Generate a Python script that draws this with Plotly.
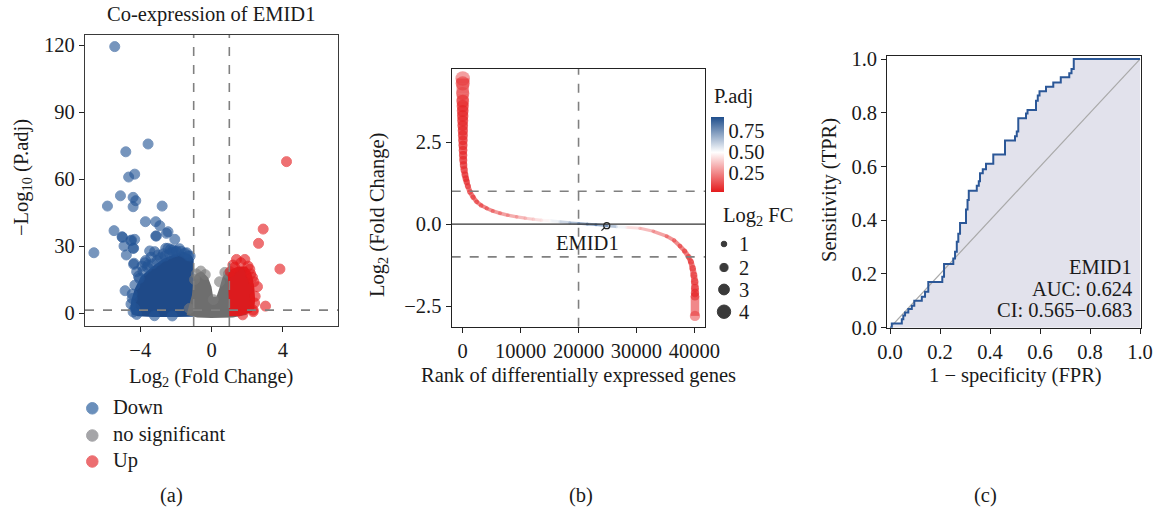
import plotly.graph_objects as go
from plotly.colors import sample_colorscale

W, H = 1162, 515
FONT = "Liberation Serif"
FS = 20.5
TXT = "#1a1a1a"


def px_x(px):
    return px / W


def px_y(py):
    return 1 - py / H


# ---------------- (a) volcano plot ----------------
down_fc = [-5.43, -3.56, -4.81, -4.31, -4.65, -5.11, -4.40, -4.25, -4.40, -5.84, -2.77,
           -3.71, -3.13, -2.90, -5.47, -2.44, -2.06, -5.00, -4.53, -4.31, -3.13, -6.60,
           -4.91, -4.37, -4.78, -3.47, -3.19, -4.37, -4.85, -3.56, -2.57, -2.16, -4.35,
           -3.75, -2.53, -3.09, -3.00, -2.44, -5.02, -4.49, -4.40, -4.31, -3.40, -2.30,
           -1.80, -1.40, -4.20, -3.90, -3.70, -4.05, -4.45, -1.20, -2.00, -2.70,
           -4.30, -4.10, -3.85, -3.60, -3.30, -3.05, -2.85, -2.60, -2.35, -2.15, -1.95,
           -1.70, -1.50, -1.30, -4.45, -4.52, -4.40, -4.20, -3.20, -2.20]
down_lp = [119.3, 75.7, 72.2, 62.2, 60.9, 52.5, 51.8, 50.3, 47.6, 47.9, 47.9,
           40.9, 40.9, 39.1, 36.9, 36.4, 33.0, 33.9, 32.4, 33.0, 34.5, 27.0,
           30.0, 29.0, 26.0, 27.8, 27.5, 21.8, 10.0, 21.5, 29.0, 28.2, 22.3,
           22.5, 35.7, 34.5, 26.0, 29.0, 34.2, 32.7, 29.0, 2.1, 25.0, 28.5,
           28.8, 27.0, 18.5, 21.0, 23.5, 15.5, 6.5, 25.5, 27.5, 26.5,
           12.5, 16.5, 18.8, 20.5, 22.0, 23.5, 24.8, 25.5, 26.5, 27.2, 27.8,
           27.6, 26.8, 25.6, 8.5, 4.0, 0.5, -0.6, -1.2, -1.3]

up_fc = [4.21, 2.90, 2.64, 3.84, 3.03, 1.40, 1.87, 2.15, 2.58, 2.34, 2.34, 1.20, 2.30,
         2.45, 1.65, 1.05, 1.30, 2.05, 2.38, 2.42, 2.20, 1.75]
up_lp = [67.8, 37.6, 31.2, 19.7, 3.1, 24.0, 24.0, 19.6, 11.8, 1.3, 0.6, 21.5, 16.0,
         7.5, 22.5, 18.5, 20.5, 21.0, 14.0, 4.5, 17.5, -0.8]

ns_fc = [-0.85, -0.60, -0.35, 0.45, 0.75, 1.55, -0.95, 0.95, -1.25, 0.10]
ns_lp = [17.5, 18.8, 17.2, 14.0, 18.2, 1.0, 15.0, 17.5, 2.0, 6.0]

# envelopes of the dense point clouds
down_core_fc = [-1.00, -1.00, -1.15, -1.60, -2.06, -2.72, -3.37, -3.97, -4.31, -4.50, -4.55,
                -4.45, -4.15, -3.30, -2.00, -1.10]
down_core_lp = [-1.6, 24.0, 26.0, 27.6, 26.5, 24.3, 20.5, 16.3, 10.8, 5.8, 2.0,
                -0.6, -1.4, -1.8, -1.8, -1.7]
ns_core_fc = [-1.40, -1.10, -1.00, -0.80, -0.60, -0.45, -0.19, 0.00, 0.09, 0.28, 0.47,
              0.62, 0.84, 1.03, 1.40, 1.75, 2.00, 1.20, 0.00, -0.80]
ns_core_lp = [-0.9, 8.0, 16.0, 17.8, 18.6, 18.2, 15.8, 11.8, 7.3, 7.3, 11.8,
              16.0, 18.3, 19.0, 8.0, 1.5, -0.8, -2.0, -2.2, -2.0]
up_core_fc = [1.00, 0.92, 1.05, 1.22, 1.49, 1.97, 2.20, 2.30, 2.40, 2.45, 2.40, 2.25,
              1.59, 1.03]
up_core_lp = [-1.4, 17.0, 19.2, 20.0, 20.8, 20.8, 18.5, 16.0, 11.8, 5.8, 2.0, 0.4,
              -1.3, -1.4]

# ---------------- (b) rank plot ----------------
rank = [0, 0, 0, 0, 0, 0, 0, 0, 0, 20, 30, 40, 50, 60, 80, 100, 150, 250, 400, 550,
        690, 900, 1260, 1800, 2420, 3200, 4150, 5200, 6440, 7800, 9330, 10800, 12200,
        13600, 15080, 16800, 18500, 20000, 21500, 23000, 24870, 26500, 28300, 30600,
        32900, 35200, 36500, 37500, 38300, 39000, 39400, 39700, 39900, 40050, 40100,
        40100, 40100, 40100]
log2fc = [4.44, 4.29, 3.98, 3.75, 3.60, 3.45, 3.30, 3.15, 3.00, 2.85, 2.70, 2.55, 2.40,
          2.25, 2.10, 1.95, 1.80, 1.65, 1.50, 1.38, 1.29, 1.15, 0.98, 0.82, 0.68, 0.57,
          0.48, 0.40, 0.33, 0.27, 0.22, 0.18, 0.15, 0.12, 0.10, 0.07, 0.04, 0.02, 0.00,
          -0.02, -0.05, -0.08, -0.10, -0.13, -0.22, -0.37, -0.50, -0.67, -0.82, -1.00,
          -1.15, -1.35, -1.55, -1.75, -1.95, -2.10, -2.20, -2.80]
padj = [0.10, 0.06, 0.10, 0.04, 0.04, 0.03, 0.03, 0.03, 0.03, 0.03, 0.03, 0.03, 0.03,
        0.03, 0.03, 0.03, 0.03, 0.03, 0.03, 0.03, 0.03, 0.03, 0.03, 0.03, 0.04, 0.05,
        0.07, 0.10, 0.13, 0.17, 0.22, 0.28, 0.35, 0.42, 0.50, 0.60, 0.72, 0.82, 0.88,
        0.88, 0.85, 0.62, 0.45, 0.30, 0.20, 0.12, 0.08, 0.05, 0.04, 0.03, 0.03, 0.03,
        0.03, 0.03, 0.03, 0.03, 0.03, 0.08]
emid1_rank, emid1_fc = 24870, -0.05
size_legend = [1, 2, 3, 4]

# ---------------- (c) ROC curve ----------------
fpr = [0, 0.007, 0.007, 0.047, 0.047, 0.053, 0.053, 0.06, 0.06, 0.073, 0.073, 0.087,
       0.087, 0.097, 0.097, 0.127, 0.127, 0.14, 0.14, 0.153, 0.153, 0.209, 0.209, 0.216,
       0.216, 0.253, 0.253, 0.26, 0.26, 0.267, 0.267, 0.273, 0.273, 0.28, 0.28, 0.304,
       0.304, 0.31, 0.31, 0.315, 0.315, 0.347, 0.347, 0.355, 0.355, 0.36, 0.36, 0.371,
       0.371, 0.384, 0.384, 0.413, 0.413, 0.46, 0.46, 0.50, 0.50, 0.507, 0.507, 0.513,
       0.513, 0.544, 0.544, 0.55, 0.55, 0.584, 0.584, 0.591, 0.591, 0.598, 0.598, 0.607,
       0.607, 0.624, 0.624, 0.653, 0.653, 0.683, 0.683, 0.717, 0.717, 0.726, 0.726,
       0.735, 0.735, 0.742, 0.742, 0.771, 0.771, 1.0]
tpr = [0, 0, 0.016, 0.016, 0.031, 0.031, 0.045, 0.045, 0.057, 0.057, 0.07, 0.07, 0.082,
       0.082, 0.1, 0.1, 0.115, 0.115, 0.134, 0.134, 0.17, 0.17, 0.19, 0.19, 0.237, 0.237,
       0.258, 0.258, 0.283, 0.283, 0.32, 0.32, 0.35, 0.35, 0.39, 0.39, 0.44, 0.44, 0.475,
       0.475, 0.51, 0.51, 0.528, 0.528, 0.545, 0.545, 0.575, 0.575, 0.59, 0.59, 0.61,
       0.61, 0.645, 0.645, 0.697, 0.697, 0.713, 0.713, 0.73, 0.73, 0.78, 0.78, 0.797,
       0.797, 0.81, 0.81, 0.845, 0.845, 0.864, 0.864, 0.88, 0.88, 0.88, 0.88, 0.897,
       0.897, 0.913, 0.913, 0.932, 0.932, 0.947, 0.947, 0.963, 0.963, 1.0, 1.0, 1.0,
       1.0, 1.0, 1.0]
roc_name, roc_auc, roc_ci = "EMID1", 0.624, (0.565, 0.683)

# ================= figure =================
fig = go.Figure()

BLUE, GREY, RED = "#245596", "#7a7a7a", "#e41a1c"


def core(xs, ys, color, ax):
    fig.add_trace(go.Scatter(x=xs, y=ys, fill="toself", fillcolor=color, mode="lines",
                             line=dict(width=0, color=color), hoverinfo="skip",
                             showlegend=False, xaxis=ax[0], yaxis=ax[1]))


def bubbles(xs, ys, color, ax):
    fig.add_trace(go.Scatter(x=xs, y=ys, mode="markers", showlegend=False,
                             marker=dict(size=10, color=color, opacity=0.62,
                                         line=dict(width=1, color=color)),
                             xaxis=ax[0], yaxis=ax[1]))


A = ("x", "y")
core(down_core_fc, down_core_lp, "#1f4a88", A)
bubbles(down_fc, down_lp, BLUE, A)
core(ns_core_fc, ns_core_lp, "#6e6e6e", A)
bubbles(ns_fc, ns_lp, GREY, A)
core(up_core_fc, up_core_lp, "#dc1b1e", A)
bubbles(up_fc, up_lp, RED, A)

# ---- (b) ----
CSCALE = [[0, "#e41a1c"], [0.53, "#ffffff"], [1, "#1f4e8c"]]
CMIN, CMAX = 0.027, 0.914


def fc_size(v):
    return 3 + 2.6 * abs(v)


for i in range(len(rank) - 1):
    pm = (padj[i] + padj[i + 1]) / 2
    col = sample_colorscale(CSCALE, [(pm - CMIN) / (CMAX - CMIN)])[0]
    wdt = 0.9 * (fc_size(log2fc[i]) + fc_size(log2fc[i + 1])) / 2
    fig.add_trace(go.Scatter(x=rank[i:i + 2], y=log2fc[i:i + 2], mode="lines",
                             line=dict(width=wdt, color=col), opacity=0.55,
                             hoverinfo="skip", showlegend=False, xaxis="x2", yaxis="y2"))

fig.add_trace(go.Scatter(
    x=rank, y=log2fc, mode="markers", showlegend=False, xaxis="x2", yaxis="y2",
    marker=dict(size=[fc_size(v) for v in log2fc], color=padj, colorscale=CSCALE,
                cmin=CMIN, cmax=CMAX, opacity=0.5, line=dict(width=0), showscale=True,
                colorbar=dict(x=px_x(711), xanchor="left", y=px_y(154.4), yanchor="middle",
                              len=75, lenmode="pixels", thickness=13, thicknessmode="pixels",
                              outlinewidth=0, xpad=0, ypad=0, ticks="",
                              tickvals=[0.25, 0.5, 0.75], ticktext=["0.25", "0.50", "0.75"],
                              tickfont=dict(family=FONT, size=FS, color=TXT)))))

fig.add_trace(go.Scatter(x=[emid1_rank], y=[emid1_fc], mode="markers", showlegend=False,
                         xaxis="x2", yaxis="y2",
                         marker=dict(size=6, color="rgba(0,0,0,0)",
                                     line=dict(width=1.3, color="#222"))))

# ---- (c) ----
fig.add_trace(go.Scatter(x=fpr, y=tpr, mode="lines", fill="tozeroy", fillcolor="#e2e2ec",
                         line=dict(width=0), hoverinfo="skip", showlegend=False,
                         xaxis="x3", yaxis="y3"))
fig.add_trace(go.Scatter(x=[0, 1], y=[0, 1], mode="lines", showlegend=False,
                         line=dict(width=1.2, color="#a9a9a9"), xaxis="x3", yaxis="y3"))
fig.add_trace(go.Scatter(x=fpr, y=tpr, mode="lines", showlegend=False,
                         line=dict(width=2, color="#2b5797"), xaxis="x3", yaxis="y3"))

# ---------------- axes ----------------
tickfont = dict(family=FONT, size=FS, color=TXT)


def axis(domain, rng, tickvals, ticktext=None, anchor=None, color="#222", lw=1.4, **kw):
    d = dict(domain=domain, range=rng, tickvals=tickvals, showgrid=False, zeroline=False,
             showline=True, mirror=True, linecolor=color, linewidth=lw, ticks="outside",
             ticklen=5, tickwidth=1.2, tickcolor="#222", tickfont=tickfont, anchor=anchor,
             automargin=False)
    if ticktext is not None:
        d["ticktext"] = ticktext
    d.update(kw)
    return d


fig.update_layout(
    xaxis=axis([px_x(85), px_x(338)], [-7.1, 7.1], [-4, 0, 4], ["\u22124", "0", "4"],
               anchor="y", color="#3a3a3a"),
    yaxis=axis([px_y(326), px_y(35)], [-5.8, 124.5], [0, 30, 60, 90, 120], anchor="x",
               color="#3a3a3a"),
    xaxis2=axis([px_x(451.7), px_x(705)], [-1900, 41830], [0, 10000, 20000, 30000, 40000],
                ["0", "10000", "20000", "30000", "40000"], anchor="y2"),
    yaxis2=axis([px_y(326.7), px_y(69)], [-3.13, 4.73], [-2.5, 0, 2.5],
                ["\u22122.5", "0.0", "2.5"], anchor="x2"),
    xaxis3=axis([px_x(887.3), px_x(1141)], [-0.011, 1.004], [0, 0.2, 0.4, 0.6, 0.8, 1.0],
                ["0.0", "0.2", "0.4", "0.6", "0.8", "1.0"], anchor="y3"),
    yaxis3=axis([px_y(327.7), px_y(55.7)], [0, 1.0125], [0, 0.2, 0.4, 0.6, 0.8, 1.0],
                ["0.0", "0.2", "0.4", "0.6", "0.8", "1.0"], anchor="x3"),
)

# ---------------- reference lines ----------------
shapes = []
dash = dict(color="#808080", width=1.6, dash="dash")
for xv in (-1, 1):
    shapes.append(dict(type="line", xref="x", yref="y", x0=xv, x1=xv, y0=-5.8, y1=124.5,
                       line=dash))
shapes.append(dict(type="line", xref="x", yref="y", x0=-7.1, x1=7.1, y0=1.3, y1=1.3,
                   line=dash))
for yv in (-1, 1):
    shapes.append(dict(type="line", xref="x2", yref="y2", x0=-1900, x1=41830, y0=yv, y1=yv,
                       line=dash))
shapes.append(dict(type="line", xref="x2", yref="y2", x0=20000, x1=20000, y0=-3.13, y1=4.73,
                   line=dash))
shapes.append(dict(type="line", xref="x2", yref="y2", x0=-1900, x1=41830, y0=0, y1=0,
                   line=dict(color="#333", width=1.3)))


def dot(cx, cy, d, color, opacity=1.0):
    return dict(type="circle", xref="paper", yref="paper",
                x0=px_x(cx - d / 2), x1=px_x(cx + d / 2),
                y0=px_y(cy + d / 2), y1=px_y(cy - d / 2),
                fillcolor=color, opacity=opacity, line=dict(width=1, color=color))


# volcano legend keys
legend_items = [("Down", "#6a8fbb", 408.3), ("no significant", "#a5a5a8", 435.5),
                ("Up", "#ec6e71", 461.5)]
for _, c, yy in legend_items:
    shapes.append(dot(92.3, yy, 11.5, c))

# size legend keys
size_rows = [244, 267.5, 289.5, 311.7]
for v, yy in zip(size_legend, size_rows):
    shapes.append(dot(724, yy, fc_size(v), "#3a3a3a"))

fig.update_layout(shapes=shapes)

# ---------------- text ----------------
ann = []


def text(s, x, y, size=FS, angle=0, xanchor="center", yanchor="middle"):
    ann.append(dict(text=s, x=px_x(x), y=px_y(y), xref="paper", yref="paper",
                    showarrow=False, textangle=angle, xanchor=xanchor, yanchor=yanchor,
                    font=dict(family=FONT, size=size, color=TXT)))


text("Co-expression of EMID1", 211, 15)
text("Log<sub>2</sub> (Fold Change)", 211, 377)
text("\u2212Log<sub>10</sub> (P.adj)", 22, 178, angle=-90)
for name, _, yy in legend_items:
    text(name, 110.5, yy - 1, xanchor="left")

text("Log<sub>2</sub> (Fold Change)", 378, 215, angle=-90)
text("Rank of differentially expressed genes", 578, 375)
text("P.adj", 712, 96, xanchor="left")
text("Log<sub>2</sub> FC", 721, 216, xanchor="left")
for v, yy in zip(size_legend, size_rows):
    text(str(v), 737, yy, xanchor="left")

text("Sensitivity (TPR)", 829, 190, angle=-90)
text("1 \u2212 specificity (FPR)", 1015, 375)
text(roc_name, 1134, 267, xanchor="right")
text(f"AUC: {roc_auc:.3f}", 1134, 288.5, xanchor="right")
text(f"CI: {roc_ci[0]:.3f}\u2212{roc_ci[1]:.3f}", 1134, 310, xanchor="right")

text("(a)", 171, 495)
text("(b)", 581, 495)
text("(c)", 985, 495)

# gene label with leader line
ann.append(dict(text="EMID1", x=emid1_rank, y=emid1_fc, xref="x2", yref="y2",
                ax=21590, ay=-0.58, axref="x2", ayref="y2", showarrow=True,
                arrowhead=0, arrowwidth=1.2, arrowcolor="#222", standoff=3,
                font=dict(family=FONT, size=FS, color=TXT)))

fig.update_layout(annotations=ann, width=W, height=H,
                  margin=dict(l=0, r=0, t=0, b=0, autoexpand=False),
                  paper_bgcolor="white", plot_bgcolor="white", showlegend=False,
                  font=dict(family=FONT, size=FS, color=TXT))

fig.write_html("out.html")
